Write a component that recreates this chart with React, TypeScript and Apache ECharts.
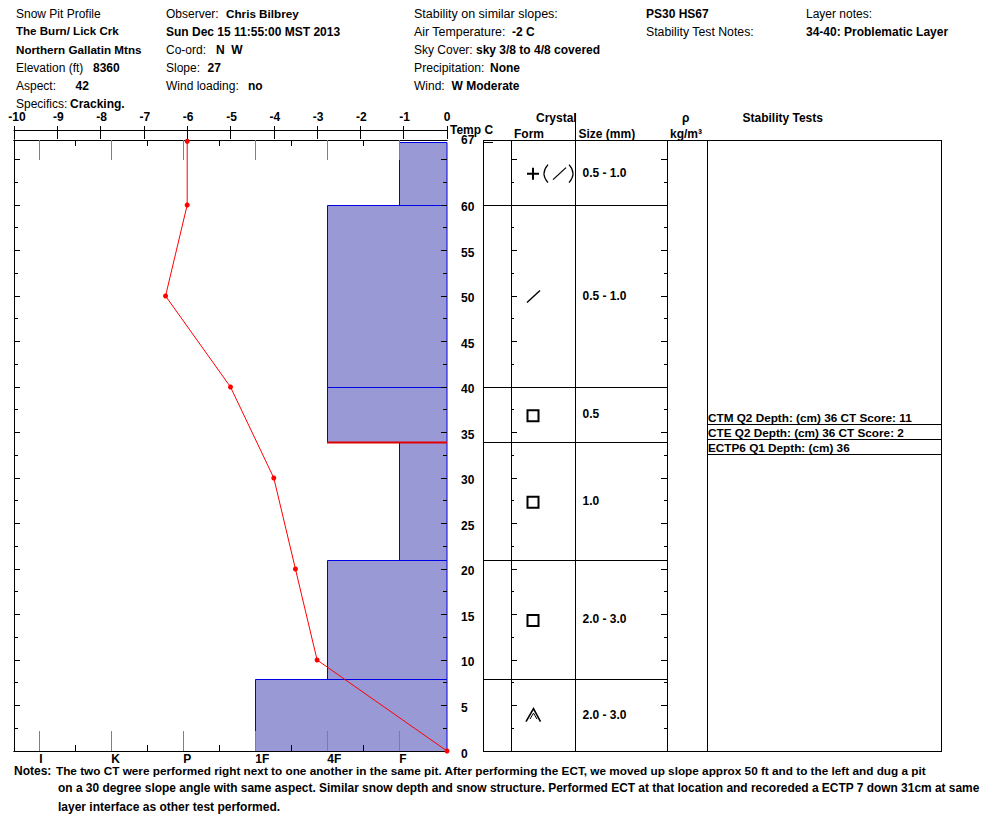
import React, { useEffect, useRef } from "react";
import * as echarts from "echarts";

// ---------- Data ----------
const hardnessLabels = ["I", "K", "P", "1F", "4F", "F"];
const hardnessValues = [1, 2, 3, 4, 5, 6];
const hardnessHalves = [1.5, 2.5, 3.5, 4.5, 5.5];
const depthLabelValues = [0, 5, 10, 15, 20, 25, 30, 35, 40, 45, 50, 55, 60, 67];
const depthMajor = [0, 5, 10, 15, 20, 25, 30, 35, 40, 45, 50, 55, 60, 65];
const depthMinor = [2.5, 7.5, 12.5, 17.5, 22.5, 27.5, 32.5, 37.5, 42.5, 47.5, 52.5, 57.5, 62.5];

const tempDepths = [67, 60, 50, 40, 30, 20, 10, 0];
const tempValues = [-6, -6, -6.5, -5, -4, -3.5, -3, 0];

const layerTops = [67, 60, 40, 34, 21, 8];
const layerBottoms = [60, 40, 34, 21, 8, 0];
const layerHardness = [6, 5, 5, 6, 5, 4];
const layerForms = ["mixed", "facet", "square", "square", "square", "depth"];
const layerSizes = ["0.5 - 1.0", "0.5 - 1.0", "0.5", "1.0", "2.0 - 3.0", "2.0 - 3.0"];

const weakLayerDepth = 34;
const weakLayerHardness = 5;

const testDepths = [36, 36, 36];
const testTexts = [
  "CTM Q2 Depth: (cm) 36 CT Score: 11",
  "CTE Q2 Depth: (cm) 36 CT Score: 2",
  "ECTP6 Q1 Depth: (cm) 36",
];

const notesLines = [
  "The two CT were performed right next to one another in the same pit. After performing the ECT, we moved up slope approx 50 ft and to the left and dug a pit",
  "on a 30 degree slope angle with same aspect. Similar snow depth and snow structure. Performed ECT at that location and recoreded a ECTP 7 down 31cm at same",
  "layer interface as other test performed.",
];

// ---------- Layout ----------
const FONT = '"Liberation Sans", Arial, sans-serif';
const PLOT_TOP = 140;
const PLOT_H = 611;
const DEPTH_MAX = 67.14;
const HARD_MIN = 0.649;
const HARD_MAX = 6.662;
const TABLE_L = 483;
const TABLE_R = 941;
const FORM_L = 511;
const SIZE_L = 575;
const DENS_L = 667;
const TESTS_L = 707;
const SYMBOL_X = 533;

const symbolPaths: Record<string, { d: string; w: number }[]> = {
  mixed: [
    { d: "M-6,0H6M0,-6V6", w: 2 },
    { d: "M15,-9Q7,0 15,9", w: 1.2 },
    { d: "M20,6L33,-6", w: 1.3 },
    { d: "M36,-9Q44,0 36,9", w: 1.2 },
  ],
  facet: [{ d: "M-6,6L7,-6", w: 1.4 }],
  square: [{ d: "M-5.5,-5.5H5.5V5.5H-5.5Z", w: 2 }],
  depth: [
    { d: "M-7,6.5L0.5,-6.5L7.5,6.5", w: 1.6 },
    { d: "M-3,4L0.5,-2L4,4", w: 1 },
  ],
};

const crisp = (v: number) => Math.ceil(v - 0.01) + 0.5;

function buildOption() {
  const hardAxis = (position: string, custom: number[], len: number, color: string, labels: boolean) => ({
    type: "value",
    gridIndex: 0,
    position,
    min: HARD_MIN,
    max: HARD_MAX,
    z: 5,
    splitLine: { show: false },
    axisLine: { show: true, onZero: false, lineStyle: { color: "#000", width: 1 } },
    axisTick: { show: true, inside: true, length: len, customValues: custom, lineStyle: { color, width: 1 } },
    axisLabel: labels
      ? {
          show: true,
          customValues: hardnessValues,
          margin: 2,
          align: "left",
          color: "#000",
          fontFamily: FONT,
          fontWeight: "bold",
          fontSize: 12,
          formatter: (v: number) => hardnessLabels[hardnessValues.indexOf(v)] ?? "",
        }
      : { show: false },
  });

  const tempAxis = (inside: boolean) => ({
    type: "value",
    gridIndex: 0,
    position: "top",
    offset: 10,
    min: -10,
    max: 0,
    interval: 1,
    z: 5,
    splitLine: { show: false },
    axisLine: { show: !inside, onZero: false, lineStyle: { color: "#000", width: 1 } },
    axisTick: { show: true, inside, length: inside ? 9 : 4, lineStyle: { color: "#000", width: 1 } },
    axisLabel: inside
      ? { show: false }
      : {
          show: true,
          margin: 7,
          color: "#000",
          fontFamily: FONT,
          fontWeight: "bold",
          fontSize: 12,
          formatter: (v: number) => (v === -10 ? `{a|${v}}` : v < 0 ? `{b|${v}}` : `${v}`),
          rich: {
            a: { padding: [0, 0, 0, 6], fontFamily: FONT, fontWeight: "bold", fontSize: 12, color: "#000" },
            b: { padding: [0, 0, 0, 2], fontFamily: FONT, fontWeight: "bold", fontSize: 12, color: "#000" },
          },
        },
    ...(inside
      ? {}
      : {
          name: "Temp C",
          nameLocation: "end",
          nameGap: 3,
          nameMoveOverlap: false,
          nameTextStyle: { color: "#000", fontFamily: FONT, fontWeight: "bold", fontSize: 12, align: "left", verticalAlign: "middle", padding: [5, 0, 0, 0] },
        }),
  });

  const depthAxis = (grid: number, position: string, custom: number[], len: number, line: boolean, labels: boolean) => ({
    type: "value",
    gridIndex: grid,
    position,
    min: 0,
    max: DEPTH_MAX,
    z: 5,
    splitLine: { show: false },
    axisLine: { show: line, onZero: false, lineStyle: { color: "#000", width: 1 } },
    axisTick: { show: true, inside: true, length: len, customValues: custom, lineStyle: { color: "#000", width: 1 } },
    axisLabel: labels
      ? {
          show: true,
          customValues: depthLabelValues,
          margin: 14,
          align: "left",
          color: "#000",
          fontFamily: FONT,
          fontWeight: "bold",
          fontSize: 12,
          formatter: (v: number) => (v === 67 ? `{t|${v}}` : `{n|${v}}`),
          rich: {
            t: { padding: [0, 0, 2, 0], fontFamily: FONT, fontWeight: "bold", fontSize: 12, color: "#000" },
            n: { padding: [5, 0, 0, 0], fontFamily: FONT, fontWeight: "bold", fontSize: 12, color: "#000" },
          },
        }
      : { show: false },
  });

  const hiddenX = (grid: number, min: number, max: number) => ({
    type: "value",
    gridIndex: grid,
    min,
    max,
    show: false,
    splitLine: { show: false },
  });

  const xAxes = [
    hardAxis("bottom", hardnessValues, 20, "#808080", true), // 0
    hardAxis("bottom", hardnessHalves, 6, "#000", false), // 1
    hardAxis("top", hardnessValues, 20, "#808080", false), // 2
    hardAxis("top", hardnessHalves, 6, "#000", false), // 3
    tempAxis(false), // 4
    tempAxis(true), // 5
    hiddenX(1, TABLE_L, TABLE_R), // 6
    hiddenX(2, FORM_L, DENS_L), // 7
  ];

  const yAxes = [
    depthAxis(0, "left", depthMajor, 6, true, false), // 0
    depthAxis(0, "left", depthMinor, 4, true, false), // 1
    depthAxis(0, "right", depthMajor, 6, false, true), // 2
    depthAxis(0, "right", depthMinor, 4, false, false), // 3
    { ...depthAxis(1, "left", [], 0, false, false), axisTick: { show: false } }, // 4
    depthAxis(2, "left", depthMajor, 6, false, false), // 5
    depthAxis(2, "left", depthMinor, 3, false, false), // 6
    depthAxis(2, "right", depthMajor, 6, false, false), // 7
    depthAxis(2, "right", depthMinor, 3, false, false), // 8
  ];

  const lineEl = (x1: number, y1: number, x2: number, y2: number, stroke = "#000", w = 1) => ({
    type: "line",
    shape: { x1, y1, x2, y2 },
    style: { stroke, lineWidth: w, fill: "none" },
  });

  const textEl = (x: number, y: number, text: string, size = 12) => ({
    type: "text",
    x,
    y,
    style: {
      text,
      fill: "#000",
      font: `bold ${size}px ${FONT}`,
      align: "left",
      verticalAlign: "middle",
    },
  });

  const series: any[] = [
    {
      name: "Hardness",
      type: "custom",
      coordinateSystem: "cartesian2d",
      xAxisIndex: 0,
      yAxisIndex: 0,
      z: 2,
      silent: true,
      clip: false,
      data: layerTops.map((t, i) => [layerHardness[i], t, layerBottoms[i]]),
      renderItem: (_p: any, api: any) => {
        const a = api.coord([api.value(0), api.value(1)]);
        const b = api.coord([HARD_MAX, api.value(2)]);
        const x = Math.round(a[0]) + 0.5;
        const y = crisp(a[1]);
        return {
          type: "rect",
          shape: { x, y, width: b[0] - x, height: crisp(b[1]) - y },
          style: { fill: "#9999d6", stroke: "#0000e6", lineWidth: 1 },
        };
      },
    },
    {
      name: "Weak layer",
      type: "custom",
      coordinateSystem: "cartesian2d",
      xAxisIndex: 0,
      yAxisIndex: 0,
      z: 3,
      silent: true,
      clip: false,
      data: [[weakLayerHardness, weakLayerDepth]],
      renderItem: (_p: any, api: any) => {
        const a = api.coord([api.value(0), api.value(1)]);
        const b = api.coord([HARD_MAX, api.value(1)]);
        const y = crisp(a[1]);
        return lineEl(Math.round(a[0]), y, b[0], y, "#e00000", 2);
      },
    },
    {
      name: "Temperature",
      type: "line",
      xAxisIndex: 4,
      yAxisIndex: 0,
      z: 6,
      silent: true,
      clip: false,
      symbol: "circle",
      symbolSize: 5,
      data: tempValues.map((t, i) => [t, tempDepths[i]]),
      lineStyle: { color: "#ff0000", width: 1 },
      itemStyle: { color: "#ff0000" },
    },
    {
      name: "Columns",
      type: "custom",
      coordinateSystem: "cartesian2d",
      xAxisIndex: 6,
      yAxisIndex: 4,
      z: 3,
      silent: true,
      clip: false,
      data: [[0]],
      renderItem: () => {
        const top = PLOT_TOP + 0.5;
        const bot = PLOT_TOP + PLOT_H + 0.5;
        const els: any[] = [TABLE_L, FORM_L, SIZE_L, DENS_L, TESTS_L, TABLE_R].map((x) =>
          lineEl(x + 0.5, top, x + 0.5, bot),
        );
        els.push(lineEl(TABLE_L, top, TABLE_R + 1, top));
        els.push(lineEl(TABLE_L, bot, TABLE_R + 1, bot));
        return { type: "group", children: els };
      },
    },
    {
      name: "Layers",
      type: "custom",
      coordinateSystem: "cartesian2d",
      xAxisIndex: 6,
      yAxisIndex: 4,
      z: 3,
      silent: true,
      clip: false,
      data: layerTops.map((t, i) => [t, layerBottoms[i]]),
      renderItem: (p: any, api: any) => {
        const i = p.dataIndex;
        const topY = crisp(api.coord([TABLE_L, api.value(0)])[1]);
        const midY = api.coord([TABLE_L, (api.value(0) + api.value(1)) / 2])[1];
        const right = i === 0 ? TABLE_L + 10 : DENS_L;
        const children: any[] = [lineEl(TABLE_L, topY, right, topY)];
        symbolPaths[layerForms[i]].forEach((s) => {
          children.push({
            type: "path",
            x: SYMBOL_X,
            y: midY + (layerForms[i] === "square" ? 1.5 : 0.5),
            shape: { pathData: s.d },
            style: { stroke: "#000", lineWidth: s.w, fill: "none" },
          });
        });
        children.push(textEl(SIZE_L + 7.5, midY, layerSizes[i]));
        return { type: "group", children };
      },
    },
    {
      name: "Stability tests",
      type: "custom",
      coordinateSystem: "cartesian2d",
      xAxisIndex: 6,
      yAxisIndex: 4,
      z: 3,
      silent: true,
      clip: false,
      data: testDepths.map((d) => [d]),
      renderItem: (p: any, api: any) => {
        const i = p.dataIndex;
        const y = crisp(api.coord([TABLE_L, api.value(0)])[1]) + i * 15;
        return {
          type: "group",
          children: [lineEl(TESTS_L, y, TABLE_R, y), textEl(TESTS_L + 1, y - 7.5, testTexts[i], 11.75)],
        };
      },
    },
  ];

  const reg = (x: number, y: number, text: string, size = 12) => ({
    type: "text",
    x,
    y,
    silent: true,
    style: { text, fill: "#000", font: `${size}px ${FONT}`, align: "left", verticalAlign: "middle" },
  });
  const bold = (x: number, y: number, text: string, size = 12) => ({
    type: "text",
    x,
    y,
    silent: true,
    style: { text, fill: "#000", font: `bold ${size}px ${FONT}`, align: "left", verticalAlign: "middle" },
  });

  const rows = [14, 32, 50, 68, 86, 104];
  const graphicEls: any[] = [
    reg(16, rows[0], "Snow Pit Profile"),
    bold(16, rows[1] - 1, "The Burn/ Lick Crk", 11.55),
    bold(16, rows[2] - 1, "Northern Gallatin Mtns", 11.65),
    reg(16, rows[3], "Elevation (ft)"),
    bold(93, rows[3], "8360"),
    reg(16, rows[4], "Aspect:"),
    bold(75.5, rows[4], "42"),
    reg(16, rows[5], "Specifics:"),
    bold(70, rows[5], "Cracking."),

    reg(166, rows[0], "Observer:"),
    bold(226, rows[0] - 1, "Chris Bilbrey", 11.7),
    bold(166, rows[1], "Sun Dec 15 11:55:00 MST 2013"),
    reg(166, rows[2], "Co-ord:"),
    bold(216, rows[2], "N  W"),
    reg(166, rows[3], "Slope:"),
    bold(207.5, rows[3], "27"),
    reg(166, rows[4], "Wind loading:"),
    bold(248, rows[4], "no"),

    reg(414, rows[0], "Stability on similar slopes:", 12.5),
    reg(414, rows[1], "Air Temperature:", 12.4),
    bold(512, rows[1], "-2 C"),
    reg(414, rows[2], "Sky Cover:", 12),
    bold(476, rows[2], "sky 3/8 to 4/8 covered"),
    reg(414, rows[3], "Precipitation:", 12.2),
    bold(490, rows[3], "None"),
    reg(414, rows[4], "Wind:", 12),
    bold(451.5, rows[4], "W Moderate"),

    bold(646, rows[0], "PS30 HS67"),
    reg(646, rows[1], "Stability Test Notes:", 12.3),
    reg(806, rows[0], "Layer notes:"),
    bold(806, rows[1], "34-40: Problematic Layer"),

    bold(536, 118, "Crystal"),
    bold(514, 134, "Form"),
    bold(578.5, 134, "Size (mm)"),
    bold(682, 118, "ρ"),
    bold(670, 134, "kg/m³"),
    bold(742.5, 118, "Stability Tests"),
    {
      type: "line",
      silent: true,
      shape: { x1: 575.5, y1: 113, x2: 575.5, y2: 140 },
      style: { stroke: "#000", lineWidth: 1 },
    },

    bold(14, 771, "Notes:"),
    bold(56, 770, notesLines[0], 11.78),
    bold(58, 788, notesLines[1], 11.93),
    bold(58, 807, notesLines[2]),
  ];

  return {
    animation: false,
    backgroundColor: "#fff",
    grid: [
      { left: 14, top: PLOT_TOP, width: 433, height: PLOT_H, containLabel: false },
      { left: TABLE_L, top: PLOT_TOP, width: TABLE_R - TABLE_L, height: PLOT_H, containLabel: false },
      { left: FORM_L, top: PLOT_TOP, width: DENS_L - FORM_L, height: PLOT_H, containLabel: false },
    ],
    xAxis: xAxes,
    yAxis: yAxes,
    series,
    graphic: { elements: graphicEls },
  };
}

export default function App() {
  const ref = useRef<HTMLDivElement>(null);
  useEffect(() => {
    document.body.style.margin = "0";
    const chart = echarts.init(ref.current!, undefined, { renderer: "svg" });
    chart.setOption(buildOption() as any);
    return () => chart.dispose();
  }, []);
  return <div ref={ref} style={{ position: "absolute", left: 0, top: 0, width: 994, height: 840 }} />;
}
